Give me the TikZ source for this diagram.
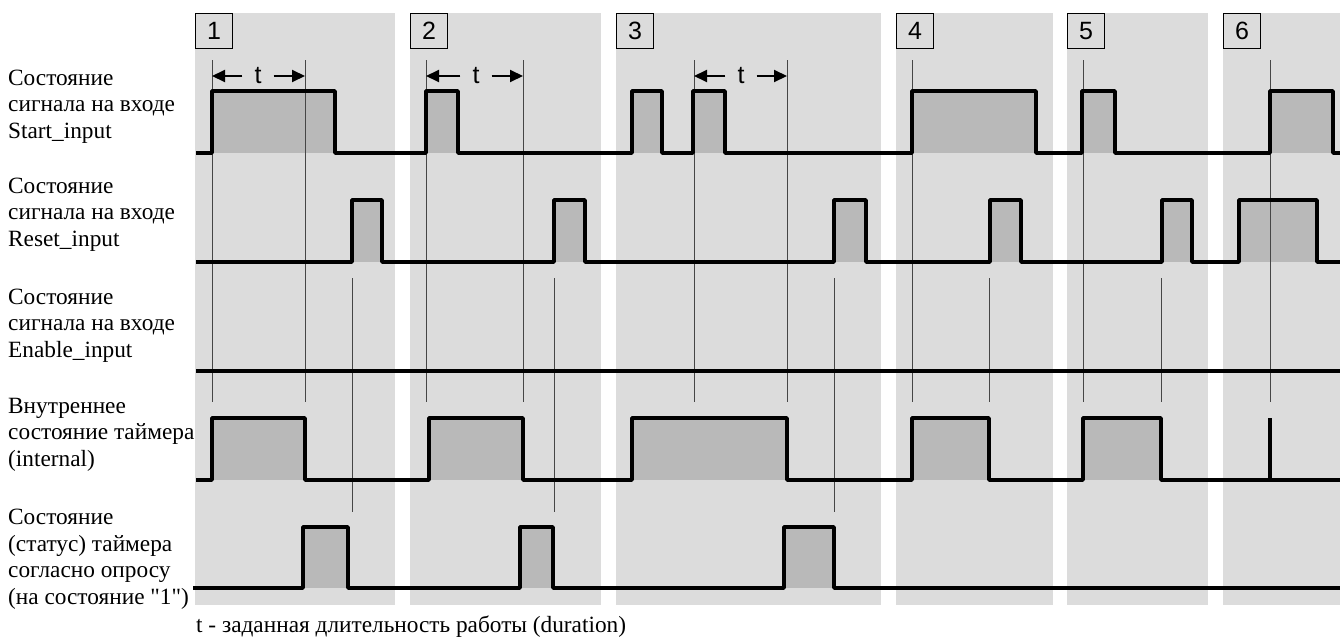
\documentclass[tikz,border=0pt]{standalone}
\usepackage{fontspec}
\setmainfont{Liberation Serif}
\newfontfamily\labelfont{Liberation Serif}
\newfontfamily\arialfont{Liberation Sans}
\usepackage{xcolor}
\usepackage{tikz}
\usetikzlibrary{arrows.meta}
\definecolor{panelgray}{RGB}{220, 220, 220}
\definecolor{pulsegray}{RGB}{185, 185, 185}
\definecolor{markgray}{RGB}{70, 70, 70}

\begin{document}
\begin{tikzpicture}[x=1pt, y=-1pt,
    signal/.style={line width=3.6pt, black, line join=round},
    pulse/.style={fill=pulsegray},
    marker/.style={line width=1pt, markgray},
    numbox/.style={draw, line width=1pt, fill=panelgray, minimum width=37pt, minimum height=35pt, inner sep=0pt, anchor=north west, font=\arialfont\fontsize{25}{25}\selectfont},
    durarrow/.style={line width=2pt, -{Triangle[length=13pt, width=12pt]}},
    tlabel/.style={inner xsep=12pt, inner ysep=0pt, font=\arialfont\fontsize{25}{25}\selectfont},
    rowlabel/.style={anchor=base west, align=left, inner sep=0pt, font=\labelfont\fontsize{23.3}{26.5}\selectfont}]
					\useasboundingbox (0,0) rectangle (1340,637);

					% gray phases
					\fill[panelgray] (195,13) rectangle (395,605);
					\fill[panelgray] (410,13) rectangle (601,605);
					\fill[panelgray] (616,13) rectangle (881,605);
					\fill[panelgray] (896,13) rectangle (1053,605);
					\fill[panelgray] (1067,13) rectangle (1208,605);
					\fill[panelgray] (1223,13) rectangle (1340,605);
					\node[numbox] (n1) at (195,13) {1};
					\node[numbox] (n2) at (410,13) {2};
					\node[numbox] (n3) at (616,13) {3};
					\node[numbox] (n4) at (896,13) {4};
					\node[numbox] (n5) at (1067,13) {5};
					\node[numbox] (n6) at (1223,13) {6};

					% pulse fills
					\foreach \a/\b in {212/335, 426/458, 632/662, 693/725, 912/1036, 1082/1115, 1270/1333}
						\fill[pulse] (\a,91) rectangle (\b,153);
					\foreach \a/\b in {352/382, 554/585, 834/866, 990/1021, 1162/1192, 1239/1317}
						\fill[pulse] (\a,200) rectangle (\b,262);
					\foreach \a/\b in {212/305, 429/523, 632/787, 912/989, 1083/1161}
						\fill[pulse] (\a,418) rectangle (\b,480);
					\foreach \a/\b in {303/348, 520/553, 784/834}
						\fill[pulse] (\a,527) rectangle (\b,588);

					% time marks
					\foreach \x in {212, 305, 426, 523, 694, 787, 912, 1083, 1270}
						\draw[marker] (\x,60) -- (\x,402);
					\foreach \x in {352, 554, 834}
						\draw[marker] (\x,278) -- (\x,512);
					\foreach \x in {989, 1161}
						\draw[marker] (\x,278) -- (\x,402);

					% Start_input
					\draw[signal] (196,153) -- (212,153) |- (335,91) -- (335,153) -- (426,153) |- (458,91) -- (458,153)
						-- (632,153) |- (662,91) -- (662,153) -- (693,153) |- (725,91) -- (725,153)
						-- (912,153) |- (1036,91) -- (1036,153) -- (1082,153) |- (1115,91) -- (1115,153)
						-- (1270,153) |- (1333,91) -- (1333,153) -- (1340,153);
					% Reset_input
					\draw[signal] (196,262) -- (352,262) |- (382,200) -- (382,262) -- (554,262) |- (585,200) -- (585,262)
						-- (834,262) |- (866,200) -- (866,262) -- (990,262) |- (1021,200) -- (1021,262)
						-- (1162,262) |- (1192,200) -- (1192,262) -- (1239,262) |- (1317,200) -- (1317,262) -- (1340,262);
					% Enable_input
					\draw[signal] (196,371) -- (1340,371);
					% internal
					\draw[signal] (196,480) -- (212,480) |- (305,418) -- (305,480) -- (429,480) |- (523,418) -- (523,480)
						-- (632,480) |- (787,418) -- (787,480) -- (912,480) |- (989,418) -- (989,480)
						-- (1083,480) |- (1161,418) -- (1161,480) -- (1340,480);
					\draw[signal] (1270,480) -- (1270,418);
					% status
					\draw[signal] (193,588) -- (303,588) |- (348,527) -- (348,588) -- (520,588) |- (553,527) -- (553,588)
						-- (784,588) |- (834,527) -- (834,588) -- (1340,588);

					% duration t
					\node[tlabel] (t1) at (258,76) {t};
					\node[tlabel] (t2) at (476,76) {t};
					\node[tlabel] (t3) at (741,76) {t};
					\coordinate (t1a) at (212,76);
					\coordinate (t1b) at (305,76);
					\coordinate (t2a) at (426,76);
					\coordinate (t2b) at (523,76);
					\coordinate (t3a) at (694,76);
					\coordinate (t3b) at (787,76);
					\draw[durarrow] (t1.west) -- (t1a);
					\draw[durarrow] (t1.east) -- (t1b);
					\draw[durarrow] (t2.west) -- (t2a);
					\draw[durarrow] (t2.east) -- (t2b);
					\draw[durarrow] (t3.west) -- (t3a);
					\draw[durarrow] (t3.east) -- (t3b);

					% row labels (anchored at the last line)
					\node[rowlabel] (lstart) at (8,138) {Состояние\\сигнала на входе\\Start\_input};
					\node[rowlabel] (lreset) at (8,246) {Состояние\\сигнала на входе\\Reset\_input};
					\node[rowlabel] (lenable) at (8,357) {Состояние\\сигнала на входе\\Enable\_input};
					\node[rowlabel] (linternal) at (8,466) {Внутреннее\\состояние таймера\\(internal)};
					\node[rowlabel] (lstatus) at (8,604) {Состояние\\(статус) таймера\\согласно опросу\\(на состояние "1")};
					\node[rowlabel] (legend) at (196,632) {t - заданная длительность работы (duration)};
				\end{tikzpicture}
\end{document}
